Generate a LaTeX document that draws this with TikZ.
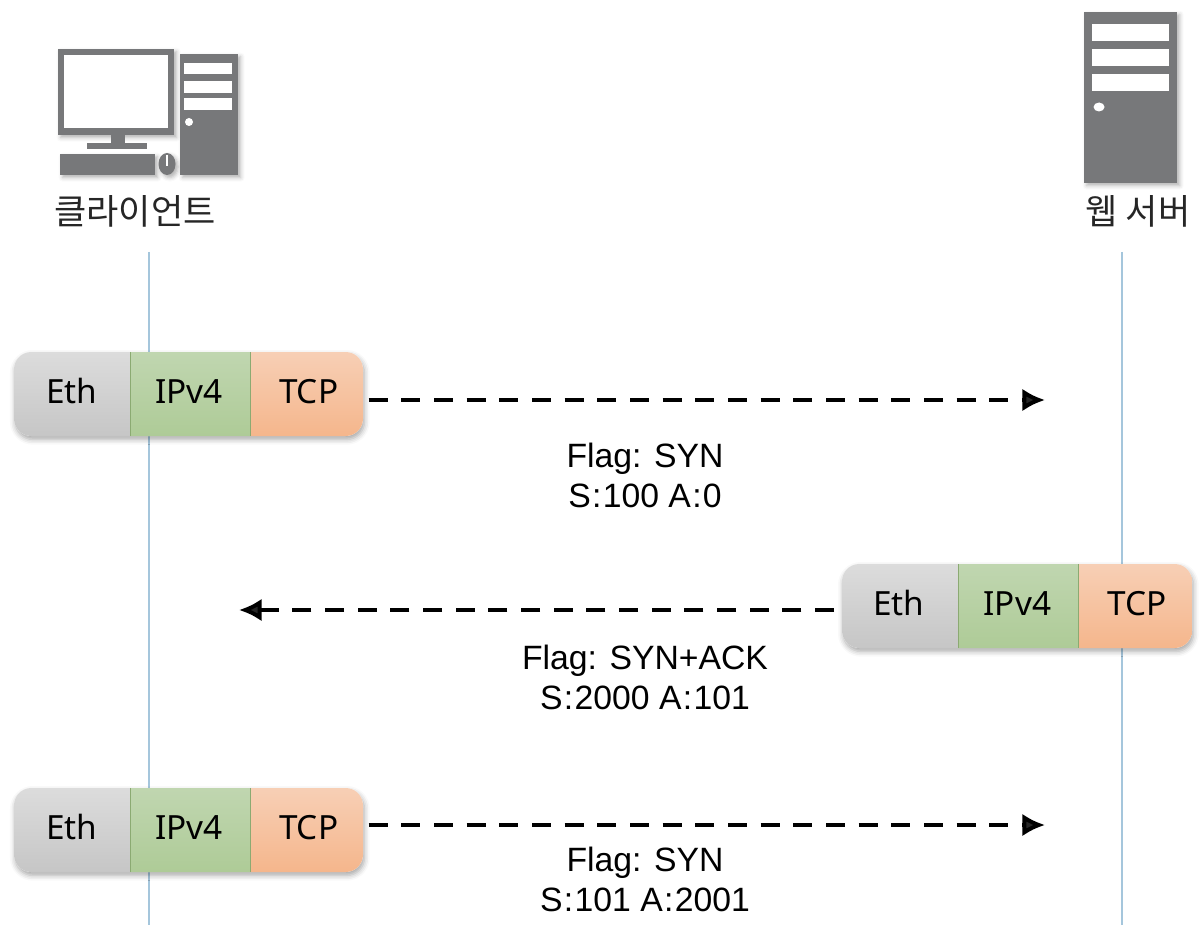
\documentclass[tikz,border=0pt]{standalone}
\usepackage{fontspec}
\setmainfont{Noto Sans}
\newfontfamily\krfont{Noto Sans CJK KR}
\newfontfamily\flagfont{Liberation Sans}
\usetikzlibrary{positioning, shadows.blur, arrows.meta}

\newcommand{\cln}{\kern1pt:\kern1pt}

\tikzset{
    seg/.style={minimum height=63pt, inner sep=0pt, outer sep=0pt, anchor=west, text height=15.5pt, text depth=1.5pt, font=\fontsize{25}{25}\selectfont},
    ethseg/.style={seg, minimum width=87pt, top color=ethtop, bottom color=ethbot},
    ipseg/.style={seg, minimum width=90pt, top color=iptop, bottom color=ipbot},
    tcpseg/.style={seg, minimum width=85pt, top color=tcptop, bottom color=tcpbot},
    divider/.style={color=ipedge, line width=0.6pt},
    outline/.style={fill=white, rounded corners=13pt, blur shadow={shadow xshift=1pt, shadow yshift=-2.5pt, shadow blur radius=4pt, shadow opacity=35}},
    msg/.style={dash pattern=on 14.3pt off 10.2pt, line width=3pt, -{Latex[length=17pt, width=17pt]}},
    life/.style={color=lifeblue, line width=0.9pt},
    flagtxt/.style={font=\flagfont\fontsize{25.3}{30}\selectfont, align=center},
    hostname/.style={font=\krfont\fontsize{26.3}{26.3}\selectfont, text=black!85},
    icon/.style={fill=icongray, blur shadow={shadow xshift=2pt, shadow yshift=-2pt, shadow blur radius=3pt, shadow opacity=30}}
}
\definecolor{ethtop}{HTML}{DCDCDC}
\definecolor{ethbot}{HTML}{C6C6C6}
\definecolor{iptop}{HTML}{C0D6B0}
\definecolor{ipbot}{HTML}{AECB97}
\definecolor{ipedge}{HTML}{8BAA72}
\definecolor{tcptop}{HTML}{F7CFB5}
\definecolor{tcpbot}{HTML}{F5B68C}
\definecolor{lifeblue}{HTML}{A5C6DC}
\definecolor{icongray}{HTML}{77787A}

\begin{document}
\begin{tikzpicture}[x=0.75pt, y=-0.75pt]
    \useasboundingbox (0,0) rectangle (1202,952);

    % lifelines
    \coordinate (clienttop) at (149,252);
    \coordinate (clientbot) at (149,925);
    \coordinate (servertop) at (1122,252);
    \coordinate (serverbot) at (1122,925);
    \draw[life] (clienttop) -- (clientbot);
    \draw[life] (servertop) -- (serverbot);

    % client
    \path[icon] (58,49) rectangle (174,135);
    \fill[white] (64,55) rectangle (168,128);
    \fill[icongray] (111,135) rectangle (125,143);
    \fill[icongray] (87,143) rectangle (147,149);
    \path[icon] (60,154) rectangle (155,175);
    \path[icon] (167,164) ellipse (8.5 and 11);
    \draw[white, line width=1.5pt] (167,155) -- (167,166);
    \path[icon] (180,54) rectangle (238,175);
    \fill[white] (184,63) rectangle (232,74);
    \fill[white] (184,81) rectangle (232,93);
    \fill[white] (184,98) rectangle (232,110);
    \fill[white] (189,122) circle (4);
    \node[hostname] (client) at (135,211) {클라이언트};

    % server
    \path[icon] (1084,12) rectangle (1177,183);
    \fill[white] (1092,24) rectangle (1169,41);
    \fill[white] (1092,49) rectangle (1169,66);
    \fill[white] (1092,74) rectangle (1169,91);
    \fill[white] (1099,107) ellipse (5.5 and 4.5);
    \node[hostname] (server) at (1138,211) {웹 서버};

    % SYN
    \begin{scope}[shift={(14,352)}]
        \path[outline] (0,0) rectangle (349,84);
        \begin{scope}
            \clip[rounded corners=13pt] (0,0) rectangle (349,84);
            \node[ethseg] (eth1) at (0,42) {Eth};
            \node[ipseg, right=0pt of eth1] (ip1) {\hspace*{-1.5pt}IPv4};
            \node[tcpseg, right=0pt of ip1] (tcp1) {\hspace*{3pt}TCP};
            \draw[divider] (eth1.north east) -- (eth1.south east);
            \draw[divider] (ip1.north east) -- (ip1.south east);
        \end{scope}
    \end{scope}
    \coordinate (syntip) at (1045,400);
    \draw[msg, shorten <=4pt] (tcp1.east |- syntip) -- (syntip);
    \node[flagtxt] (syntxt) at (645,475) {Flag: SYN\\S\cln 100 A\cln 0};

    % SYN+ACK
    \begin{scope}[shift={(842,564)}]
        \path[outline] (0,0) rectangle (350,84);
        \begin{scope}
            \clip[rounded corners=13pt] (0,0) rectangle (350,84);
            \node[ethseg] (eth2) at (0,42) {\hspace*{-2pt}Eth};
            \node[ipseg, right=0pt of eth2] (ip2) {\hspace*{-1pt}IPv4};
            \node[tcpseg, right=0pt of ip2] (tcp2) {\hspace*{3pt}TCP};
            \draw[divider] (eth2.north east) -- (eth2.south east);
            \draw[divider] (ip2.north east) -- (ip2.south east);
        \end{scope}
    \end{scope}
    \coordinate (acktip) at (239,610);
    \draw[msg, shorten <=6pt] (eth2.west |- acktip) -- (acktip);
    \node[flagtxt] (acktxt) at (645,677) {Flag: SYN+ACK\\S\cln 2000 A\cln 101};

    % ACK
    \begin{scope}[shift={(14,788)}]
        \path[outline] (0,0) rectangle (349,84);
        \begin{scope}
            \clip[rounded corners=13pt] (0,0) rectangle (349,84);
            \node[ethseg] (eth3) at (0,42) {Eth};
            \node[ipseg, right=0pt of eth3] (ip3) {\hspace*{-1.5pt}IPv4};
            \node[tcpseg, right=0pt of ip3] (tcp3) {\hspace*{3pt}TCP};
            \draw[divider] (eth3.north east) -- (eth3.south east);
            \draw[divider] (ip3.north east) -- (ip3.south east);
        \end{scope}
    \end{scope}
    \coordinate (lasttip) at (1045,825);
    \draw[msg, shorten <=4pt] (tcp3.east |- lasttip) -- (lasttip);
    \node[flagtxt] (lasttxt) at (645,879) {Flag: SYN\\S\cln 101 A\cln 2001};
\end{tikzpicture}
\end{document}
